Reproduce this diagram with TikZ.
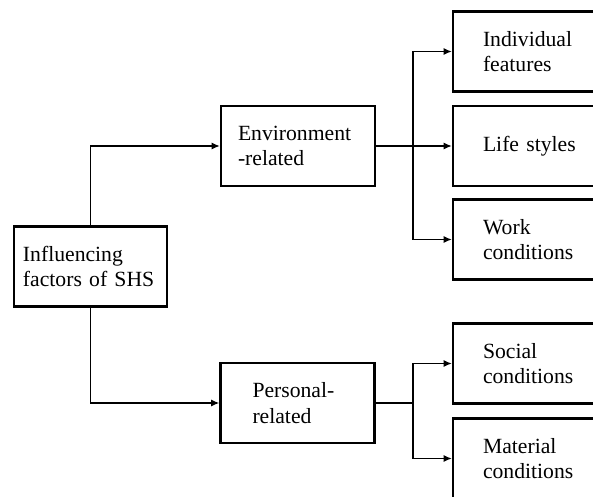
\documentclass[tikz,border=0pt]{standalone}
\usepackage{fontspec}
\setmainfont{Liberation Serif}
\usetikzlibrary{arrows.meta, positioning}

\begin{document}
\begin{tikzpicture}[
      x=0.03cm, y=-0.03cm,
      box/.style={draw, line width=1.8pt, align=left, minimum height=2.4cm, inner ysep=2pt,
        font=\fontsize{18.5}{22}\selectfont},
      leafbox/.style={box, text width=3cm, inner xsep=0.9cm},
      arrow/.style={-{Latex[length=7pt, width=6pt]}, line width=1.6pt},
      wire/.style={line width=1.6pt}
    ]
      % frame of the picture
      \useasboundingbox (0,0) rectangle (593,496);
      \clip (0,0) rectangle (593,496);

      % root and the two groups
      \node[box, text width=4.05cm, inner xsep=0.27cm] (factors) at (90.5,266.5) {Influencing\\factors of SHS};
      \node[box, text width=3.6cm, inner xsep=0.51cm] (env) at (298,146) {Environment\\-related};
      \node[box, text width=2.7cm, inner xsep=0.96cm] (pers) at (297.5,403) {Personal-\\related};

      % leaves of the environment group
      \node[leafbox] (indiv) at (533,51.5) {Individual\\features};
      \node[leafbox] (life) at (533,146) {Life styles};
      \node[leafbox] (work) at (533,239.5) {Work\\conditions};

      % leaves of the personal group
      \node[leafbox] (social) at (533,363.5) {Social\\conditions};
      \node[leafbox] (material) at (533,458.5) {Material\\conditions};

      % trunks where the branches split
      \coordinate (env_trunk) at (413,146);
      \coordinate (pers_trunk) at (413,403);

      % Arrows
      \draw[arrow] (factors.north) |- (env.west);
      \draw[arrow] (factors.south) |- (pers.west);

      \draw[arrow] (env.east) -- (life.west);
      \draw[arrow] (env_trunk) |- (indiv.west);
      \draw[arrow] (env_trunk) |- (work.west);

      \draw[wire] (pers.east) -- (pers_trunk);
      \draw[arrow] (pers_trunk) |- (social.west);
      \draw[arrow] (pers_trunk) |- (material.west);
    \end{tikzpicture}
\end{document}
